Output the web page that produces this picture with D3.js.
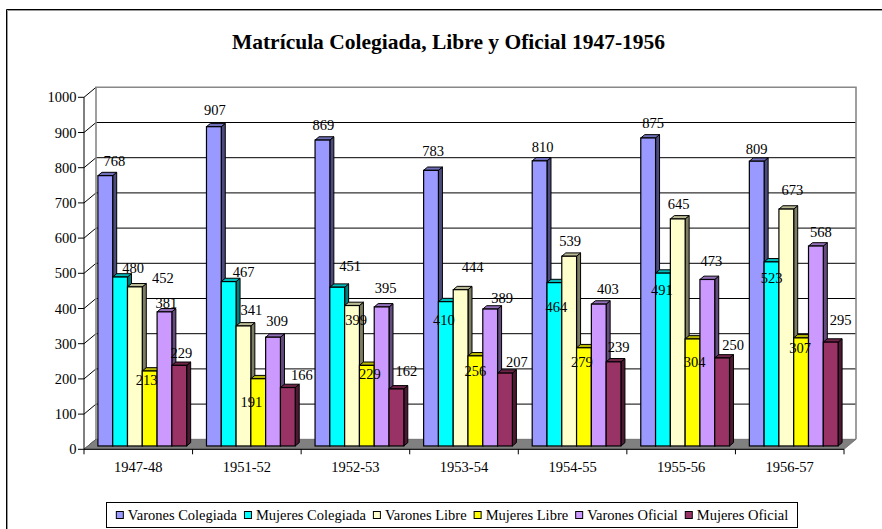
<!DOCTYPE html>
<html><head><meta charset="utf-8">
<script src="https://cdn.jsdelivr.net/npm/d3@7"></script>
<style>
body{margin:0;background:#fff}svg{display:block}
text{font-family:"Liberation Serif","Times New Roman",Times,Tinos,"DejaVu Serif",serif;}
</style>
</head><body>
<svg id="c" width="882" height="529"></svg>
<script>
const title = "Matrícula Colegiada, Libre y Oficial 1947-1956";
const categories = ["1947-48","1951-52","1952-53","1953-54","1954-55","1955-56","1956-57"];
const seriesNames = ["Varones Colegiada","Mujeres Colegiada","Varones Libre","Mujeres Libre","Varones Oficial","Mujeres Oficial"];
const varonesColegiada = [768,907,869,783,810,875,809];
const mujeresColegiada = [480,467,451,410,464,491,523];
const varonesLibre     = [452,341,399,444,539,645,673];
const mujeresLibre     = [213,191,229,256,279,304,307];
const varonesOficial   = [381,309,395,389,403,473,568];
const mujeresOficial   = [229,166,162,207,239,250,295];
const yTicks = [0,100,200,300,400,500,600,700,800,900,1000];
const seriesColors = ["#9999FF","#00FFFF","#FFFFCC","#FFFF00","#CC99FF","#993366"];
// layout nudges (px) of the data labels relative to the default spot above each bar
const labelNudge = [
  [[9,-3],[1,-5],[1,-3],[2,-7],[3,-2],[5,-3],[0,0]],
  [[13,3],[15,2],[13,-9],[-2,30],[2,36],[-1,29],[0,28]],
  [[28,3],[8,-4],[4,26],[12,-11],[1,-3],[1,-3],[6,-7]],
  [[-3,21],[-7,35],[3,21],[0,27],[-2,26],[2,35],[-1,22]],
  [[2,3],[4,-4],[4,-7],[12,1],[9,-3],[4,-7],[5,-2]],
  [[2,0],[14,-1],[10,-6],[12,1],[5,-3],[11,-1],[10,-10]]
];
const series = [varonesColegiada,mujeresColegiada,varonesLibre,mujeresLibre,varonesOficial,mujeresOficial];

const svg = d3.select("#c");
const DX = 12, DY = -10;          // full depth of the 3D box
const bdx = DX/3, bdy = DY/3;     // bar depth

const y = d3.scaleLinear().domain([0,1000]).range([449.3, 97.3]);
const x0 = d3.scaleBand().domain(categories).range([84,844]).padding(0);
const x1 = d3.scaleBand().domain(d3.range(6)).range([0, x0.bandwidth()]).paddingInner(0).paddingOuter(0.67);

// outer border
svg.append("path").attr("d","M7.5,529 V10.5 H882").attr("fill","none").attr("stroke","#999").attr("stroke-width",1);
svg.append("path").attr("d","M6.5,529 V9.5 H882").attr("fill","none").attr("stroke","#000").attr("stroke-width",1);

// title
svg.append("text").attr("x",448.5).attr("y",49).attr("text-anchor","middle")
  .attr("font-weight","bold").attr("font-size",21.5).text(title);

const xL = x0.range()[0], xR = x0.range()[1];
// back wall
svg.append("rect").attr("x",xL+DX).attr("y",y(1000)+DY).attr("width",xR-xL).attr("height",y(0)-y(1000))
  .attr("fill","#fff");
// back gridlines
svg.append("g").selectAll("line").data(yTicks.filter(d=>d>0 && d<1000)).join("line")
  .attr("x1",xL+DX).attr("x2",xR+DX).attr("y1",d=>y(d)+DY).attr("y2",d=>y(d)+DY)
  .attr("stroke","#000").attr("stroke-width",1);
// side wall gridlines
svg.append("g").selectAll("line").data(yTicks).join("line")
  .attr("x1",xL).attr("x2",xL+DX).attr("y1",d=>y(d)).attr("y2",d=>y(d)+DY)
  .attr("stroke","#000").attr("stroke-width",1);
// back wall border
svg.append("path").attr("d",`M${xL+DX},${y(0)+DY} V${y(1000)+DY} H${xR+DX} V${y(0)+DY}`)
  .attr("fill","none").attr("stroke","#888").attr("stroke-width",1.6);
// floor
svg.append("path").attr("d",`M${xL},${y(0)} L${xR},${y(0)} L${xR+DX},${y(0)+DY} L${xL+DX},${y(0)+DY} Z`)
  .attr("fill","#808080").attr("stroke","#666").attr("stroke-width",0.8);

// bars
const gb = svg.append("g");
categories.forEach((c,ci)=>{
  series.forEach((vals,si)=>{
    const v = vals[ci];
    const bx = x0(c)+x1(si)+bdx, w = x1.bandwidth();
    const ty = y(v)+bdy, by = y(0)+bdy;
    const col = d3.color(seriesColors[si]);
    const side = col.darker(2).formatHex(), top = col.darker(0.9).formatHex();
    gb.append("path").attr("d",`M${bx+w},${ty} L${bx+w+bdx},${ty+bdy} L${bx+w+bdx},${by+bdy} L${bx+w},${by} Z`)
      .attr("fill",side).attr("stroke","#000").attr("stroke-width",1).attr("stroke-linejoin","round");
    gb.append("path").attr("d",`M${bx},${ty} L${bx+bdx},${ty+bdy} L${bx+w+bdx},${ty+bdy} L${bx+w},${ty} Z`)
      .attr("fill",top).attr("stroke","#000").attr("stroke-width",1).attr("stroke-linejoin","round");
    gb.append("rect").attr("x",bx).attr("y",ty).attr("width",w).attr("height",by-ty)
      .attr("fill",col.formatHex()).attr("stroke","#000").attr("stroke-width",1.2);
  });
});

// axes
const ax = svg.append("g").attr("stroke","#000").attr("stroke-width",1);
ax.append("line").attr("x1",xL).attr("x2",xL).attr("y1",y(1000)).attr("y2",y(0));
ax.append("line").attr("x1",xL).attr("x2",xR).attr("y1",y(0)).attr("y2",y(0));
ax.selectAll(".yt").data(yTicks).join("line").attr("x1",xL-6).attr("x2",xL).attr("y1",d=>y(d)).attr("y2",d=>y(d));
ax.selectAll(".xt").data(d3.range(categories.length+1)).join("line")
  .attr("x1",i=>xL+i*x0.step()).attr("x2",i=>xL+i*x0.step()).attr("y1",y(0)).attr("y2",y(0)+5);

svg.append("g").selectAll("text").data(yTicks).join("text")
  .attr("x",xL-7.5).attr("y",d=>y(d)).attr("dy","0.35em").attr("text-anchor","end")
  .attr("font-size",14.5).text(d=>d);
svg.append("g").selectAll("text").data(categories).join("text")
  .attr("x",d=>x0(d)+x0.bandwidth()/2).attr("y",466.5).attr("dy","0.35em").attr("text-anchor","middle")
  .attr("font-size",14.5).text(d=>d);

// data labels
const gl = svg.append("g").attr("font-size",14.5).attr("text-anchor","middle");
categories.forEach((c,ci)=>{
  series.forEach((vals,si)=>{
    const v = vals[ci];
    const cx = x0(c)+x1(si)+bdx+x1.bandwidth()/2;
    const ty = y(v)+bdy;
    const n = labelNudge[si][ci];
    gl.append("text").attr("x",cx+n[0]).attr("y",ty-12+n[1]).attr("dy","0.35em").text(v);
  });
});

// legend
const lg = svg.append("g");
lg.append("rect").attr("x",106.5).attr("y",502.5).attr("width",691).attr("height",25)
  .attr("fill","#fff").attr("stroke","#000").attr("stroke-width",1);
let lx = 0;
const items = lg.append("g");
seriesNames.forEach((s,i)=>{
  const g = items.append("g").attr("transform",`translate(${lx},0)`);
  g.append("rect").attr("x",0.5).attr("y",511.5).attr("width",7).attr("height",7)
    .attr("fill",seriesColors[i]).attr("stroke","#000").attr("stroke-width",1);
  const t = g.append("text").attr("x",12).attr("y",515).attr("dy","0.35em")
    .attr("font-size",14.5).text(s);
  lx += 12 + t.node().getComputedTextLength() + 7;
});
const totalW = lx - 7;
items.attr("transform",`translate(${106.5 + (691-totalW)/2},0)`);
</script>
</body></html>
